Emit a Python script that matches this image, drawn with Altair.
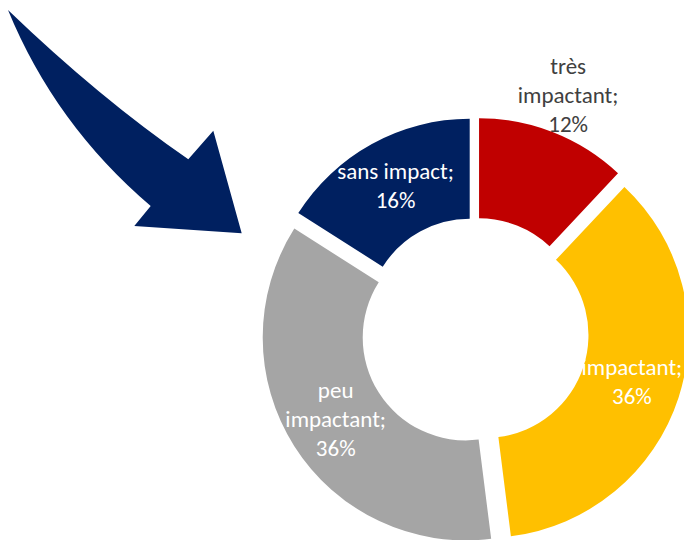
import altair as alt
import pandas as pd

# ---- data ----
categories = ["très impactant", "impactant", "peu impactant", "sans impact"]
percentages = [12, 36, 36, 16]
palette = ["#C00000", "#FFC000", "#A5A5A5", "#002060"]

# ---- layout / style ----
W, H = 676, 532
CX, CY = 467, 323.5
R_OUT, R_IN = 203, 103
EXPLODE = 11
FONT = "Carlito, Calibri, Lato"
LINE_H = 29

labels_txt = [f"{c};\n{p}%".replace(" impactant", "\nimpactant") for c, p in zip(categories, percentages)]
df = pd.DataFrame({
    "category": categories,
    "pct": percentages,
    "order": list(range(len(categories))),
    "label": labels_txt,
})

base = (
    alt.Chart(df)
    .transform_window(cum="sum(pct)", sort=[alt.SortField("order")], frame=[None, 0])
    .transform_calculate(start="(datum.cum - datum.pct) / 100 * 2 * PI")
    .transform_calculate(end="datum.cum / 100 * 2 * PI")
    .transform_calculate(mid="(datum.cum - datum.pct / 2) / 100 * 2 * PI")
    .transform_calculate(cx=f"{CX} + {EXPLODE} * sin(datum.mid)")
    .transform_calculate(cy=f"{CY} - {EXPLODE} * cos(datum.mid)")
    .transform_calculate(lr=f"datum.pct < 15 ? {R_OUT + 39} : {(R_OUT + R_IN) / 2 + 1}")
    .transform_calculate(nl="length(split(datum.label, '\\n'))")
    .transform_calculate(lx="datum.cx + datum.lr * sin(datum.mid)")
    .transform_calculate(ly=f"datum.cy - datum.lr * cos(datum.mid) - (datum.nl - 1) * {LINE_H} / 2")
)

arcs = base.mark_arc(outerRadius=R_OUT, innerRadius=R_IN).encode(
    x=alt.X("cx:Q", scale=None, axis=None),
    y=alt.Y("cy:Q", scale=None, axis=None),
    theta=alt.Theta("start:Q", scale=None, stack=None),
    theta2="end:Q",
    color=alt.Color("category:N", scale=alt.Scale(domain=categories, range=palette), legend=None),
)

labels = base.mark_text(
    font=FONT, fontSize=23, lineBreak="\n", lineHeight=LINE_H, align="center", baseline="middle"
).encode(
    x=alt.X("lx:Q", scale=None, axis=None),
    y=alt.Y("ly:Q", scale=None, axis=None),
    text="label:N",
    color=alt.condition("datum.pct < 15", alt.value("#404040"), alt.value("#FFFFFF")),
)

ARROW = ("M 0 2 Q 91.5 90 180.3 151.3 L 205.3 122.7 L 233.7 225.3 "
         "L 126.3 218 L 142.7 198 Q 47.1 116.7 0 2 Z")
arrow = alt.Chart(pd.DataFrame({"k": [0]})).mark_point(
    shape=ARROW, size=4, filled=True, fill="#002060", opacity=1, strokeWidth=0
).encode(x=alt.value(0), y=alt.value(0))

chart = (
    alt.layer(arrow, arcs, labels)
    .properties(width=W, height=H, padding=0, autosize="none")
    .configure_view(stroke=None)
)

chart.save("out.html", embed_options={"renderer": "svg", "actions": False})
